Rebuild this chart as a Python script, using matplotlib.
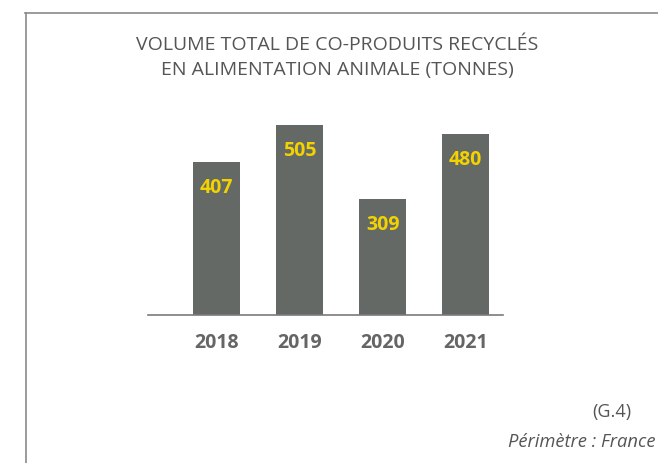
import matplotlib.pyplot as plt
from matplotlib.lines import Line2D

years = ["2018", "2019", "2020", "2021"]
volumes = [407, 505, 309, 480]

W, H = 658, 464
fig = plt.figure(figsize=(W / 100, H / 100), dpi=100)

# frame around the panel (left and top edges)
fig.add_artist(Line2D([25.5 / W, 25.5 / W], [0, 1 - 14 / H], color="#8a8a8a", lw=1.2))
fig.add_artist(Line2D([25 / W, 1], [1 - 14 / H, 1 - 14 / H], color="#8a8a8a", lw=1.2))

# axes placed in pixels: baseline at y=316, from x=148 to x=503
ax = fig.add_axes([148 / W, (H - 316) / H, 355 / W, 211 / H])
x = list(range(len(years)))
ax.bar(x, volumes, width=0.566, color="#646965")
ax.set_xlim(-0.825, 3.45)
ax.set_ylim(0, 560)
for s in ["top", "right", "left"]:
    ax.spines[s].set_visible(False)
ax.spines["bottom"].set_color("#7a7a7a")
ax.spines["bottom"].set_linewidth(1.2)
ax.set_yticks([])
ax.set_xticks(x)
ax.set_xticklabels(years, fontsize=14, fontweight="bold", color="#636664", family="Open Sans")
ax.tick_params(axis="x", length=0, pad=12)

for xi, v in zip(x, volumes):
    ax.annotate(str(v), (xi, v), xytext=(0, -18), textcoords="offset points",
                ha="center", va="center", fontsize=14, fontweight="bold",
                color="#f2d200", family="Open Sans")

fig.text(337 / W, 1 - 45 / H, "VOLUME TOTAL DE CO-PRODUITS RECYCLÉS",
         ha="center", va="center", fontsize=14, color="#555555", family="Open Sans")
fig.text(337 / W, 1 - 70 / H, "EN ALIMENTATION ANIMALE (TONNES)",
         ha="center", va="center", fontsize=14, color="#555555", family="Open Sans")

fig.text(631 / W, 1 - 412 / H, "(G.4)", ha="right", va="center", fontsize=13,
         color="#555555", family="Open Sans")
fig.text(508 / W, 1 - 442 / H, "Périmètre : France", ha="left", va="center", fontsize=13.2,
         color="#555555", family="Open Sans", style="italic")

fig.savefig("out.png", dpi=100)
